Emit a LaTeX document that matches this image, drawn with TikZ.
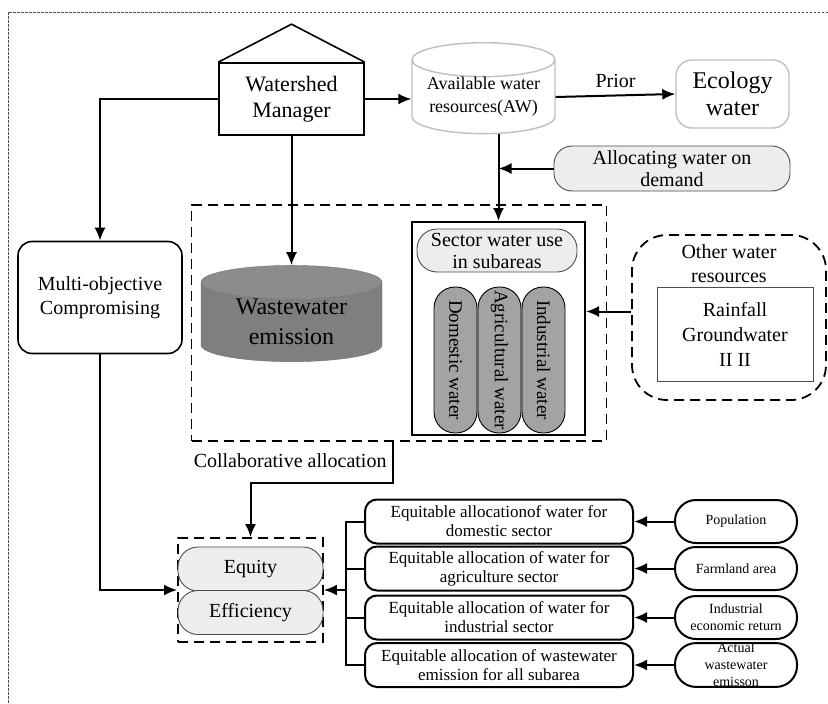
\documentclass[tikz,border=0pt]{standalone}
\usepackage{fontspec}
\setmainfont{Liberation Serif}
\usetikzlibrary{arrows.meta,shapes.geometric}

\definecolor{lightfill}{HTML}{EDEDED}
\definecolor{pillgray}{HTML}{A3A3A3}
\definecolor{wastegray}{HTML}{7F7F7F}
\definecolor{edgegray}{HTML}{BFBFBF}
\newcommand{\fs}[2]{\fontsize{#1}{#2}\selectfont}

\begin{document}
\begin{tikzpicture}[x=1pt,y=-1pt,
	arr/.style={ -{Latex[length=13pt,width=11pt]}, line width=2pt },
	box/.style={ draw, line width=1.6pt, align=center, inner sep=0pt },
	rbox/.style={ box, rounded corners=14pt },
	pill/.style={ box, draw=black!70, line width=0.9pt, fill=lightfill, rounded corners=20pt },
	dbox/.style={ draw, line width=1.8pt, dash pattern=on 10pt off 6pt, inner sep=0pt }
]
\useasboundingbox (0,0) rectangle (828,704);
\draw[black!70, line width=0.7pt, dash pattern=on 2.5pt off 1.5pt] (8,12) rectangle (840,720);

% top row
\node at (291.5,99) (mgr) [box,minimum width=145pt,minimum height=72pt,font=\fs{22}{26}] {Watershed\\Manager};
\draw[line width=1.6pt] (mgr.north west) -- ([yshift=38pt]mgr.north) -- (mgr.north east);
\node at (483.5,97) (aw) [cylinder,shape border rotate=90,aspect=0.3,draw=edgegray,line width=1.4pt,
	minimum width=143pt,minimum height=83pt,align=center,inner sep=0pt,font=\fs{18}{23}] {Available water\\resources(AW)};
\node at (732.5,94) (eco) [draw=edgegray,line width=1.4pt,rounded corners=16pt,minimum width=113pt,
	minimum height=68pt,align=center,font=\fs{24}{27}] {Ecology\\water};
\draw[arr] (mgr.east) -- (mgr.east -| aw.west);
\draw[arr] (aw.east) -- (eco.west) node[midway,above=3pt,font=\fs{20}{24}] {Prior};
\node at (672,168.5) (alloc) [pill,minimum width=236pt,minimum height=45pt,rounded corners=18pt,font=\fs{20}{22}] {Allocating water on\\demand};

% collaborative region
\node at (399,323) (region) [dbox,minimum width=415pt,minimum height=236pt] {};
\node at (498.5,328.5) (sector) [box,line width=2pt,minimum width=173pt,minimum height=213pt] {};
\draw[arr] (aw.south -| sector.north) -- (sector.north);
\draw[arr] (alloc.west) -- (alloc.west -| sector.north);
\node at (497,250.5) (sectuse) [pill,minimum width=160pt,minimum height=43pt,font=\fs{20}{22}] {Sector water use\\in subareas};
\foreach \x/\nm/\txt in {455.5/domw/Domestic water,499.5/agrw/Agricultural water,543.5/indw/Industrial water}
	\node at (\x,360) (\nm) [box,line width=0.9pt,fill=pillgray,rotate=-90,rounded corners=21pt,
		minimum width=146pt,minimum height=43pt,font=\fs{19}{22}] {\txt};
\node at (291.5,322) (waste) [cylinder,shape border rotate=90,aspect=0.3,draw=wastegray!90!black,
	cylinder uses custom fill,cylinder body fill=wastegray,cylinder end fill=wastegray!90!white,
	minimum width=181pt,minimum height=85pt,align=center,inner sep=0pt,font=\fs{24}{30}] {Wastewater\\emission};
\draw[arr] (mgr.south) -- (waste.north);

% other resources
\node at (729,317.5) (other) [dbox,rounded corners=35pt,minimum width=194pt,minimum height=165pt] {};
\node at (729,264) (otherlbl) [align=center,font=\fs{20}{24}] {Other water\\resources};
\node at (735,334) (rain) [draw=black!70,line width=0.9pt,minimum width=156pt,minimum height=94pt,
	align=center,font=\fs{20}{25}] {Rainfall\\Groundwater\\II II};
\draw[arr] ([yshift=6pt]other.west) -- ([yshift=6pt]other.west -| sector.east);

% left side
\node at (100,297.5) (multi) [rbox,minimum width=164pt,minimum height=112pt,font=\fs{20}{24}] {Multi-objective\\Compromising};
\draw[arr] (mgr.west) -| (multi.north);

% goals
\node at (250.5,590) (eqbox) [dbox,minimum width=145pt,minimum height=104pt] {};
\node at (250.5,569) (equity) [pill,minimum width=145pt,minimum height=44pt,font=\fs{20}{24}] {Equity};
\node at (250.5,612.5) (effic) [pill,minimum width=145pt,minimum height=44pt,font=\fs{20}{24}] {Efficiency};
\draw[arr] (multi.south) |- (eqbox.west);
\node at (390,461) (collab) [anchor=east,font=\fs{20}{24}] {Collaborative allocation};
\coordinate (cturn) at (393,483);
\draw[arr] (cturn |- region.south) -- (cturn) -| (eqbox.north);

% equitable allocation rows
\foreach \y/\nm/\txt/\src/\stxt in {
	521.5/dom/{Equitable allocationof water for\\domestic sector}/pop/Population,
	568.5/agr/{Equitable allocation of water for\\agriculture sector}/farm/Farmland area,
	617.5/ind/{Equitable allocation of water for\\industrial sector}/ret/{Industrial\\economic return},
	665/emi/{Equitable allocation of wastewater\\emission for all subarea}/act/{Actual\\wastewater\\emisson}} {
	\node at (499,\y) (\nm) [rbox,line width=2pt,rounded corners=12pt,minimum width=268pt,minimum height=44pt,font=\fs{17}{19}] {\txt};
	\node at (736,\y) (\src) [box,line width=2pt,rounded corners=21pt,minimum width=122pt,minimum height=43pt,font=\fs{14}{17}] {\stxt};
	\draw[arr] (\src) -- (\nm);
}
\coordinate (brx) at (346,590);
\draw[line width=2pt] (dom.west) -- (dom.west -| brx) -- (emi.west -| brx) -- (emi.west);
\foreach \nm in {agr,ind} \draw[line width=2pt] (\nm.west) -- (\nm.west -| brx);
\draw[arr] (brx) -- (eqbox.east);

\end{tikzpicture}
\end{document}
